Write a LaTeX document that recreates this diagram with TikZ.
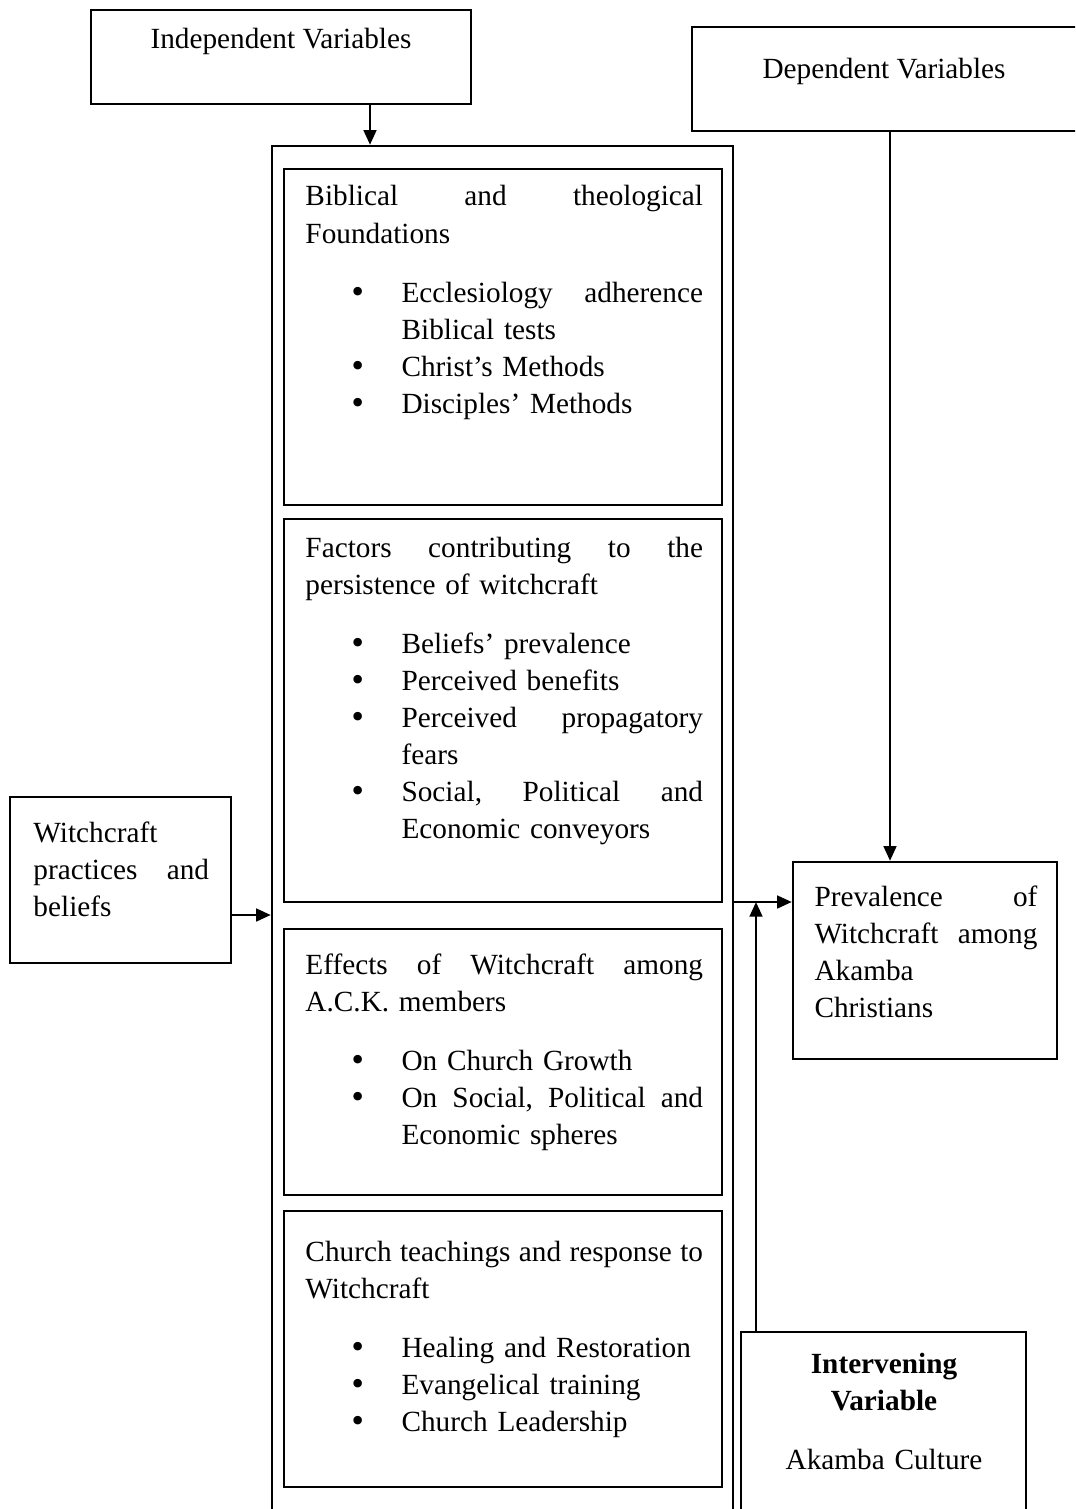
\documentclass[tikz,border=0pt]{standalone}
\usepackage{fontspec}
\setmainfont{Liberation Serif}
\newfontfamily\bulfont{DejaVu Sans}
\usepackage{tikz}
\usetikzlibrary{arrows.meta,positioning,fit,calc}
\newcommand{\bul}{\par\noindent\llap{{\bulfont\textbullet}\hspace{14.2pt}}}
\newcommand{\lgap}{\par\vspace{9pt}\leftskip=39.4pt}

\begin{document}
\begin{tikzpicture}[x=0.41pt,y=-0.41pt,
  box/.style={draw,line width=1pt,inner sep=0pt},
  txt/.style={inner sep=0pt,anchor=base west,font=\fontsize{12}{15.2}\selectfont},
  arr/.style={line width=1pt,-{Triangle[length=6pt,width=5.2pt]}}]
  \useasboundingbox (0,0) rectangle (1075,1509);
  \clip (0,0) rectangle (1075,1509);
  % variable boxes
  \node[box,fit={(91,10) (471,104)}] (indep) {};
  \node[txt,anchor=base] (tindep) at (281,49) {Independent Variables};
  \node[box,fit={(692,27) (1085,131)}] (dep) {};
  \node[txt,anchor=base] (tdep) at (884,79) {Dependent Variables};
  % main column
  \node[box,fit={(272,146) (733,1530)}] (outer) {};
  \node[box,fit={(284,169) (722,505)}] (b1) {};
  \node[box,fit={(284,519) (722,902)}] (b2) {};
  \node[box,fit={(284,929) (722,1195)}] (b3) {};
  \node[box,fit={(284,1211) (722,1487)}] (b4) {};
  \node[txt,text width=163pt] (t1) at (305,206)
    {Biblical\hfill and\hfill theological\par Foundations\lgap
     \bul Ecclesiology\hfill adherence\par Biblical tests
     \bul Christ's Methods
     \bul Disciples' Methods\par};
  \node[txt,text width=163pt] (t2) at (305,557)
    {Factors\hfill contributing\hfill to\hfill the\par persistence of witchcraft\lgap
     \bul Beliefs' prevalence
     \bul Perceived benefits
     \bul Perceived\hfill propagatory\par fears
     \bul Social,\hfill Political\hfill and\par Economic conveyors\par};
  \node[txt,text width=163pt] (t3) at (305,974)
    {Effects\hfill of\hfill Witchcraft\hfill among\par A.C.K. members\lgap
     \bul On Church Growth
     \bul On\hfill Social,\hfill Political\hfill and\par Economic spheres\par};
  \node[txt,text width=163pt] (t4) at (305,1261)
    {Church\hfill teachings\hfill and\hfill response\hfill to\par Witchcraft\lgap
     \bul Healing and Restoration
     \bul Evangelical training
     \bul Church Leadership\par};
  % side boxes
  \node[box,fit={(10,797) (231,963)}] (witch) {};
  \node[txt,text width=72pt] (twitch) at (33,842)
    {Witchcraft\par practices\hfill and\par beliefs\par};
  \node[box,fit={(793,862) (1057,1059)}] (prev) {};
  \node[txt,text width=91.4pt] (tprev) at (814,906)
    {Prevalence\hfill of\par Witchcraft\hfill among\par Akamba\par Christians\par};
  \node[box,fit={(741,1332) (1026,1530)}] (interv) {};
  \node[txt,anchor=base,text width=110pt,align=center] (tinterv) at (884,1373)
    {\textbf{Intervening}\\\textbf{Variable}\\[9pt]Akamba Culture};
  % connectors
  \coordinate (ia) at (370,0);
  \coordinate (dx) at (890,0);
  \coordinate (ix) at (756,0);
  \coordinate (wy) at (0,915);
  \coordinate (hy) at (0,902);
  \draw[arr] (indep.south -| ia) -- (outer.north -| ia);
  \draw[arr] (dep.south -| dx) -- (prev.north -| dx);
  \draw[arr] (witch.east |- wy) -- (outer.west |- wy);
  \draw[arr] (outer.east |- hy) -- (prev.west |- hy);
  \draw[arr] (interv.north -| ix) -- (ix |- hy);
\end{tikzpicture}
\end{document}
